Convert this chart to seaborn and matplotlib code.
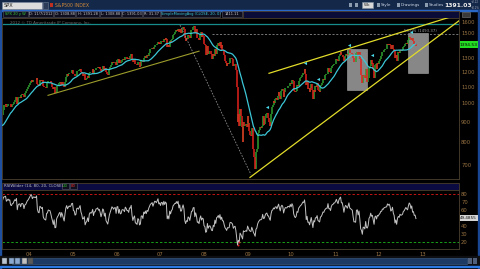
import numpy as np
import pandas as pd
import matplotlib
matplotlib.use("Agg")
import matplotlib.pyplot as plt
import seaborn as sns
from matplotlib.patches import Rectangle

# ---------------- data (weekly closes, SPX) ----------------
close_2003 = [908.6, 927.6, 901.8, 861.4, 855.7, 829.7, 834.9, 851.2, 841.2, 828.9, 833.3, 895.8, 863.5,
              876.5, 868.3, 893.6, 898.8, 930.1, 933.4, 944.3, 933.2, 963.6, 987.8, 988.6, 995.7, 976.2,
              985.7, 998.1, 993.3, 998.7, 980.2, 977.6, 990.7, 993.1, 1008.0, 1021.4, 1018.6, 1036.3, 996.9,
              1029.9, 1038.7, 1039.3, 1028.9, 1050.7, 1053.2, 1050.4, 1035.3, 1058.2, 1061.5, 1074.1, 1088.7, 1095.9]
close_2004 = [1108.5, 1121.9, 1139.8, 1141.6, 1131.1, 1142.8, 1145.8, 1144.1, 1144.9, 1156.9, 1120.6, 1109.8, 1108.1,
              1141.8, 1139.3, 1134.6, 1140.6, 1107.3, 1098.7, 1095.7, 1093.6, 1120.7, 1122.5, 1136.5, 1135.0, 1134.4,
              1125.4, 1112.8, 1101.4, 1086.2, 1101.7, 1063.9, 1064.8, 1098.4, 1107.8, 1113.6, 1123.9, 1128.6, 1110.1,
              1131.5, 1122.1, 1108.2, 1095.7, 1130.2, 1166.2, 1184.2, 1170.3, 1182.7, 1191.2, 1188.0, 1194.2, 1210.1, 1211.9]
close_2005 = [1186.2, 1184.5, 1167.9, 1171.4, 1203.0, 1205.3, 1201.6, 1211.4, 1222.1, 1200.1, 1190.2, 1171.4,
              1172.9, 1181.2, 1142.6, 1152.1, 1156.9, 1171.4, 1154.0, 1189.3, 1198.8, 1196.0, 1200.9, 1216.9, 1191.6,
              1211.9, 1211.9, 1227.9, 1229.3, 1234.2, 1226.4, 1230.4, 1219.7, 1205.1, 1218.0, 1241.5, 1237.9, 1215.3, 1228.8,
              1195.9, 1186.6, 1177.8, 1198.4, 1220.1, 1234.7, 1248.3, 1268.3, 1265.1, 1259.4, 1267.3, 1268.7, 1248.3]
close_2006 = [1285.5, 1287.6, 1261.5, 1283.7, 1264.0, 1266.9, 1287.2, 1289.4, 1287.2, 1281.6, 1307.3, 1302.9, 1294.8,
              1295.5, 1289.1, 1311.3, 1310.6, 1325.8, 1291.2, 1267.0, 1280.2, 1288.2, 1252.3, 1251.5, 1244.5, 1270.2,
              1265.5, 1236.2, 1240.3, 1278.6, 1279.4, 1266.7, 1302.3, 1295.1, 1311.0, 1298.9, 1319.7, 1314.8, 1335.8,
              1349.6, 1365.2, 1368.6, 1377.3, 1364.3, 1380.9, 1401.2, 1400.9, 1396.7, 1409.8, 1427.1, 1410.8, 1418.3]
close_2007 = [1409.7, 1430.7, 1430.5, 1422.2, 1448.4, 1438.1, 1455.5, 1451.2, 1387.2, 1402.8, 1386.9, 1436.1, 1420.9,
              1443.8, 1452.9, 1484.4, 1494.1, 1505.6, 1505.9, 1522.8, 1515.7, 1536.3, 1507.7, 1532.9, 1502.6, 1503.4,
              1530.4, 1552.5, 1534.1, 1458.9, 1433.1, 1453.6, 1445.9, 1479.4, 1473.9, 1453.6, 1484.3, 1525.8, 1526.8,
              1557.6, 1561.8, 1500.6, 1535.3, 1509.7, 1453.7, 1458.7, 1440.7, 1481.1, 1504.7, 1467.9, 1484.5, 1478.5]
close_2008 = [1411.6, 1401.0, 1325.2, 1330.6, 1395.4, 1331.3, 1349.9, 1353.1, 1330.6, 1293.4, 1288.1, 1329.5, 1315.2,
              1370.4, 1332.8, 1390.3, 1397.8, 1413.9, 1388.3, 1425.4, 1375.9, 1400.4, 1360.7, 1360.0, 1317.9, 1278.4,
              1262.9, 1239.5, 1260.7, 1257.8, 1260.3, 1296.3, 1298.2, 1292.2, 1282.8, 1242.3, 1251.7, 1255.1, 1213.3,
              1099.2, 899.2, 940.6, 876.8, 968.8, 930.9, 873.3, 800.0, 896.2, 876.1, 879.7, 887.9, 872.8]
close_2009 = [931.8, 890.4, 850.1, 831.9, 825.9, 868.6, 826.8, 770.0, 735.1, 683.4, 756.6, 768.5, 815.9,
              842.5, 856.6, 869.6, 866.2, 877.5, 929.2, 882.9, 887.0, 919.1, 940.1, 946.2, 921.2, 918.9,
              896.4, 879.1, 940.4, 979.3, 987.5, 1010.5, 1004.1, 1026.1, 1028.9, 1016.4, 1042.7, 1068.3, 1044.4,
              1025.2, 1071.5, 1087.7, 1079.6, 1036.2, 1069.3, 1093.5, 1091.4, 1091.5, 1105.9, 1106.4, 1102.5, 1126.5]
close_2010 = [1115.1, 1144.9, 1136.0, 1091.8, 1073.9, 1066.2, 1075.5, 1109.2, 1104.5, 1138.7, 1149.9, 1159.9, 1166.6,
              1178.1, 1194.4, 1192.1, 1217.3, 1186.7, 1110.9, 1135.7, 1087.7, 1089.4, 1064.9, 1091.6, 1117.5, 1076.8,
              1022.6, 1077.9, 1064.9, 1102.7, 1101.6, 1121.6, 1079.2, 1071.7, 1064.6, 1104.5, 1109.6, 1125.6, 1148.7,
              1146.1, 1165.2, 1176.2, 1183.1, 1183.3, 1225.9, 1199.2, 1199.7, 1189.4, 1224.7, 1240.4, 1243.9, 1256.8, 1257.6]
close_2011 = [1271.5, 1293.2, 1283.4, 1276.3, 1310.9, 1329.1, 1343.0, 1319.9, 1321.1, 1304.3, 1279.2, 1313.8,
              1332.4, 1328.2, 1319.7, 1337.4, 1363.6, 1340.2, 1337.8, 1333.3, 1331.1, 1300.2, 1270.9, 1271.5, 1268.4,
              1339.7, 1343.8, 1316.1, 1345.0, 1292.3, 1199.4, 1178.8, 1123.5, 1176.8, 1173.9, 1154.2, 1216.0, 1136.4, 1131.4,
              1155.5, 1224.6, 1238.2, 1285.1, 1253.2, 1263.9, 1215.7, 1158.7, 1244.3, 1255.2, 1219.7, 1265.3, 1257.6]
close_2012 = [1277.8, 1289.1, 1315.4, 1316.3, 1344.9, 1342.6, 1361.2, 1365.7, 1369.6, 1370.9, 1404.2, 1397.1, 1408.5,
              1398.1, 1370.3, 1378.5, 1403.4, 1369.1, 1353.4, 1295.2, 1317.8, 1278.0, 1325.7, 1342.8, 1335.0, 1362.2,
              1354.7, 1356.8, 1362.7, 1385.9, 1390.9, 1405.9, 1418.2, 1411.1, 1406.6, 1437.9, 1465.8, 1460.2, 1440.7,
              1460.9, 1428.6, 1433.2, 1411.9, 1414.2, 1394.5]

price_ticks = [700, 800, 900, 1000, 1100, 1200, 1300, 1500, 1600]
rsi_ticks = [20, 30, 40, 60, 70, 80]
year_labels = ['04', '05', '06', '07', '08', '09', '10', '11', '12', '13']
year_first_bars = ['2004-01-02', '2005-01-07', '2006-01-06', '2007-01-05', '2008-01-04',
                   '2009-01-02', '2010-01-01', '2011-01-07', '2012-01-06', '2013-01-04']

# drawings
trend_a_dates, trend_a_prices = ['2004-06-09', '2007-11-23'], [1047, 1351]
trend_b_dates, trend_b_prices = ['2007-06-17', '2009-01-30'], [1570, 663]
trend_c_dates, trend_c_prices = ['2009-06-30', '2013-08-19'], [1189, 1644]
trend_d_dates, trend_d_prices = ['2009-01-22', '2013-11-11'], [652, 1616]
box_dates = [('2011-04-11', '2011-09-25'), ('2012-09-01', '2013-02-15')]
box_prices = [(1077, 1366), (1189, 1497)]
marker_dates = ['2009-06-13', '2010-04-27', '2010-08-13', '2011-04-28', '2011-11-06', '2012-09-26']
marker_prices = [977, 1260, 1149, 1398, 1319, 1512]
high_line = 1578
fib_level = 1489
fib_start = '2008-03-10'
last_label = '1394.53'
rsi_label = '49.4855'

# ---------------- prep ----------------
closes = np.array(close_2003 + close_2004 + close_2005 + close_2006 + close_2007 +
                  close_2008 + close_2009 + close_2010 + close_2011 + close_2012)
dates = pd.date_range('2003-01-03', periods=len(closes), freq='W-FRI')
T0 = pd.Timestamp('2004-01-02')
def d2x(d):
    return (pd.to_datetime(d) - T0) / pd.Timedelta(days=1)

df = pd.DataFrame({'x': d2x(dates), 'close': closes})
df['open'] = df['close'].shift(1).fillna(df['close'])
df['sma'] = df['close'].rolling(20).mean()
delta = df['close'].diff()
gain = delta.clip(lower=0)
loss = (-delta).clip(lower=0)
ag = gain.ewm(alpha=1/14, adjust=False).mean()
al = loss.ewm(alpha=1/14, adjust=False).mean()
df['rsi'] = 100 - 100 / (1 + ag / al)
df.loc[:14, 'rsi'] = np.nan

W, H = 480, 269
XL = (-225.7, 3594)
fig = plt.figure(figsize=(W / 100, H / 100), dpi=100, facecolor='#000000')

def px_axes(x0, y0, x1, y1):
    return fig.add_axes([x0 / W, 1 - y1 / H, (x1 - x0) / W, (y1 - y0) / H])

# chrome background
bg = px_axes(0, 0, W, H)
bg.set_xlim(0, W); bg.set_ylim(H, 0); bg.axis('off'); bg.set_zorder(-5)
bg.add_patch(Rectangle((0, 0), W, 10.5, color='#14284a'))
bg.add_patch(Rectangle((0, 9.8), W, 1.2, color='#2a68c8'))
bg.add_patch(Rectangle((0, 10), 1.3, 259, color='#1f4f9f'))
bg.add_patch(Rectangle((477.5, 10), 2.5, 259, color='#1a4590'))
bg.add_patch(Rectangle((2, 182.5), 457, 7.5, fc='#0b0b42', ec='#4a3c2c', lw=0.6))
bg.add_patch(Rectangle((243, 11), 216, 6.5, fc='#0b0b38', ec='#4a3c2c', lw=0.6))
bg.add_patch(Rectangle((0, 256), W, 10, color='#0d0f12'))
bg.add_patch(Rectangle((12, 257.6), 455, 6, fc='#1c3a64', ec='#36567e', lw=0.5))
bg.add_patch(Rectangle((0, 265.6), W, 1.4, color='#2a78e0'))

BORDER = '#43382a'
TICKC = '#9a7444'

# ---------------- main price panel ----------------
ax = px_axes(2, 18, 459, 179)
ax.set_facecolor('#000000')
ax.set_yscale('log')
ax.set_xlim(*XL)
ax.set_ylim(646, 1636)

vis = df[df['x'] >= XL[0] - 10]
for (d0, d1), (p0, p1) in zip(box_dates, box_prices):
    ax.add_patch(Rectangle((d2x(d0), p0), d2x(d1) - d2x(d0), p1 - p0,
                           fc='#a0a0a0', ec='#b8b8b8', lw=0.4, alpha=0.85, zorder=1))
up = vis['close'] >= vis['open']
ax.vlines(vis['x'][up], vis['open'][up], vis['close'][up], colors='#2f9f2f', lw=1.1, zorder=2)
ax.vlines(vis['x'][~up], vis['open'][~up], vis['close'][~up], colors='#e3221c', lw=1.1, zorder=2)
sns.lineplot(x=vis['x'], y=vis['sma'], ax=ax, color='#3cc6d6', linewidth=0.9, zorder=3, legend=False)

ax.axhline(high_line, color='#178c8c', lw=0.9, zorder=1)
ax.plot([d2x(fib_start), XL[1]], [fib_level, fib_level], color='#8a8a8a', lw=0.6,
        ls=(0, (2.5, 2)), zorder=1)
ax.text(d2x('2012-12-20'), fib_level * 1.006, '50.0% (1493.37)', color='#a0a0a0',
        fontsize=2.8, ha='center', va='bottom', zorder=4)
ax.plot(d2x(trend_a_dates), trend_a_prices, color='#9c9c2c', lw=0.8, zorder=4)
ax.plot(d2x(trend_b_dates), trend_b_prices, color='#8c8c8c', lw=0.6, ls=(0, (2, 1.6)), zorder=4)
ax.plot(d2x(trend_c_dates), trend_c_prices, color='#e2dc2a', lw=0.9, zorder=4)
ax.plot(d2x(trend_d_dates), trend_d_prices, color='#e2dc2a', lw=0.9, zorder=4)
ax.scatter(d2x(marker_dates), marker_prices, marker='<', s=5, color='#4ad8e8', lw=0, zorder=5)

ax.yaxis.tick_right()
ax.set_yticks(price_ticks)
ax.set_yticklabels([str(p) for p in price_ticks])
ax.minorticks_off()
ax.tick_params(axis='y', length=0, pad=1.5, labelsize=3.8, labelcolor=TICKC)
ax.set_xticks([])
ax.set_xlabel(''); ax.set_ylabel('')
for s in ax.spines.values():
    s.set_color(BORDER); s.set_linewidth(0.7)

# ---------------- RSI panel ----------------
ar = px_axes(2, 190, 459, 249)
ar.set_facecolor('#000000')
ar.set_xlim(*XL)
ar.set_ylim(11.25, 85)
ar.axhline(80, color='#c41414', lw=0.7, ls=(0, (2.5, 2)))
ar.axhline(20, color='#18a018', lw=0.7, ls=(0, (2.5, 2)))
sns.lineplot(x=vis['x'], y=vis['rsi'], ax=ar, color='#c4c4c4', linewidth=0.7, legend=False)
low = vis[vis['rsi'] < 20]
ar.scatter(low['x'], low['rsi'], s=2, color='#e02020', lw=0, zorder=4)
ar.yaxis.tick_right()
ar.set_yticks(rsi_ticks)
ar.set_yticklabels([str(v) for v in rsi_ticks])
ar.set_xticks(d2x(year_first_bars))
ar.set_xticklabels(year_labels)
ar.tick_params(length=0, labelsize=3.8, labelcolor=TICKC)
ar.tick_params(axis='x', pad=2.2)
ar.tick_params(axis='y', pad=1.5)
ar.set_xlabel(''); ar.set_ylabel('')
for s in ar.spines.values():
    s.set_color(BORDER); s.set_linewidth(0.7)

# ---------------- foreground chrome / texts ----------------
fg = px_axes(0, 0, W, H)
fg.set_xlim(0, W); fg.set_ylim(H, 0); fg.axis('off'); fg.set_zorder(10)
# toolbar
fg.add_patch(Rectangle((2, 1.6), 40, 7, fc='#dcdcdc', ec='#7a8aa0', lw=0.4))
fg.text(4, 5.3, 'SPX', fontsize=3.6, color='#202020', va='center')
fg.add_patch(Rectangle((43, 1.6), 4.5, 7, fc='#2c3c58', ec='#6a7a90', lw=0.4))
fg.add_patch(Rectangle((49.5, 3), 3, 3.5, fc='#c03020'))
fg.text(55, 5.3, 'S&P500 INDEX', fontsize=3.3, color='#d08a3a', va='center')
fg.add_patch(Rectangle((362, 1.8), 11, 6.4, fc='#d8d8d8', ec='#8090a0', lw=0.4))
fg.text(367.5, 5.1, 'Wk', fontsize=3.0, color='#202020', va='center', ha='center')
for xx, lab in [(381, 'Style'), (401, 'Drawings'), (429, 'Studies')]:
    fg.text(xx, 5.1, lab, fontsize=3.0, color='#d0d8e4', va='center')
    fg.add_patch(Rectangle((xx - 4, 3), 2.5, 3.8, fc='#8c9cb0'))
fg.add_patch(Rectangle((349, 3), 3, 3.8, fc='#8c9cb0'))
fg.add_patch(Rectangle((355, 3), 3, 3.8, fc='#8c9cb0'))
fg.text(444.5, 5.2, '1391.03', fontsize=4.3, color='#f0f0f0', va='center', weight='bold')
fg.text(471, 2.4, '+2.22', fontsize=1.9, color='#a0a8b8', va='center')
fg.text(471, 7.9, '+0.2%', fontsize=1.9, color='#a0a8b8', va='center')

# header info boxes
hdr = [(3, 28, 'SPX 20 y W', '#3cc83c'), (29, 53, 'D: 11/7/2012', '#c8c8c8'),
       (54, 75, 'O: 1308.88', '#c8c8c8'), (76, 99, 'H: 1391.28', '#c8c8c8'),
       (100, 121, 'L: 1308.88', '#c8c8c8'), (122, 142, 'C: 1391.03', '#c8c8c8'),
       (143, 160, 'R: 31.37', '#c8c8c8'),
       (161, 220, 'SimpleMovingAvg (CLOSE, 20, 0)', '#3cc8d8'),
       (222, 242, '1411.11', '#c8c8c8')]
for x0, x1, t, c in hdr:
    fg.add_patch(Rectangle((x0, 11.2), x1 - x0, 6.2, fc='#0e0e1e', ec='#5a5a6a', lw=0.4))
    fg.text((x0 + x1) / 2, 14.4, t, fontsize=2.6, color=c, va='center', ha='center')
fg.add_patch(Rectangle((462, 11.5), 8, 5.5, fc='#3a3a3a', ec='#7a7a7a', lw=0.4))
fg.text(10, 22.6, '2012 \u00a9 TD Ameritrade IP Company, Inc.', fontsize=2.9, color='#6a6a6a', va='center')

# RSI header
fg.text(4, 186.3, 'RSIWilder (14, 80, 20, CLOSE)', fontsize=2.9, color='#c0c0c0', va='center')
fg.add_patch(Rectangle((62, 183.3), 7, 6, fc='#0e0e1e', ec='#5a5a6a', lw=0.4))
fg.text(63, 186.3, '20', fontsize=2.9, color='#30c030', va='center')
fg.add_patch(Rectangle((69.5, 183.3), 7, 6, fc='#0e0e1e', ec='#5a5a6a', lw=0.4))
fg.text(70.5, 186.3, '80', fontsize=2.9, color='#e03030', va='center')

# right axis value labels
fg.add_patch(Rectangle((459.5, 41.2), 18, 6.6, fc='#22dd22'))
fg.text(468.5, 44.5, last_label, fontsize=3.2, color='#0a0a0a', va='center', ha='center')
fg.add_patch(Rectangle((459.5, 215), 18, 6.4, fc='#d4d4d4'))
fg.text(468.5, 218.2, rsi_label, fontsize=3.0, color='#101010', va='center', ha='center')

# bottom toolbar icons
for i, c in enumerate(['#b8c4d0', '#8aa8d0', '#8aa8d0', '#c0c0c0', '#5a5a5a']):
    fg.add_patch(Rectangle((2 + i * 6.5, 258), 5, 5.5, fc=c, ec='#404040', lw=0.3))
fg.add_patch(Rectangle((468, 258), 4, 5.5, fc='#50607a'))
fg.add_patch(Rectangle((473, 258), 4, 5.5, fc='#50607a'))

fig.savefig('out.png', dpi=100, facecolor=fig.get_facecolor())
